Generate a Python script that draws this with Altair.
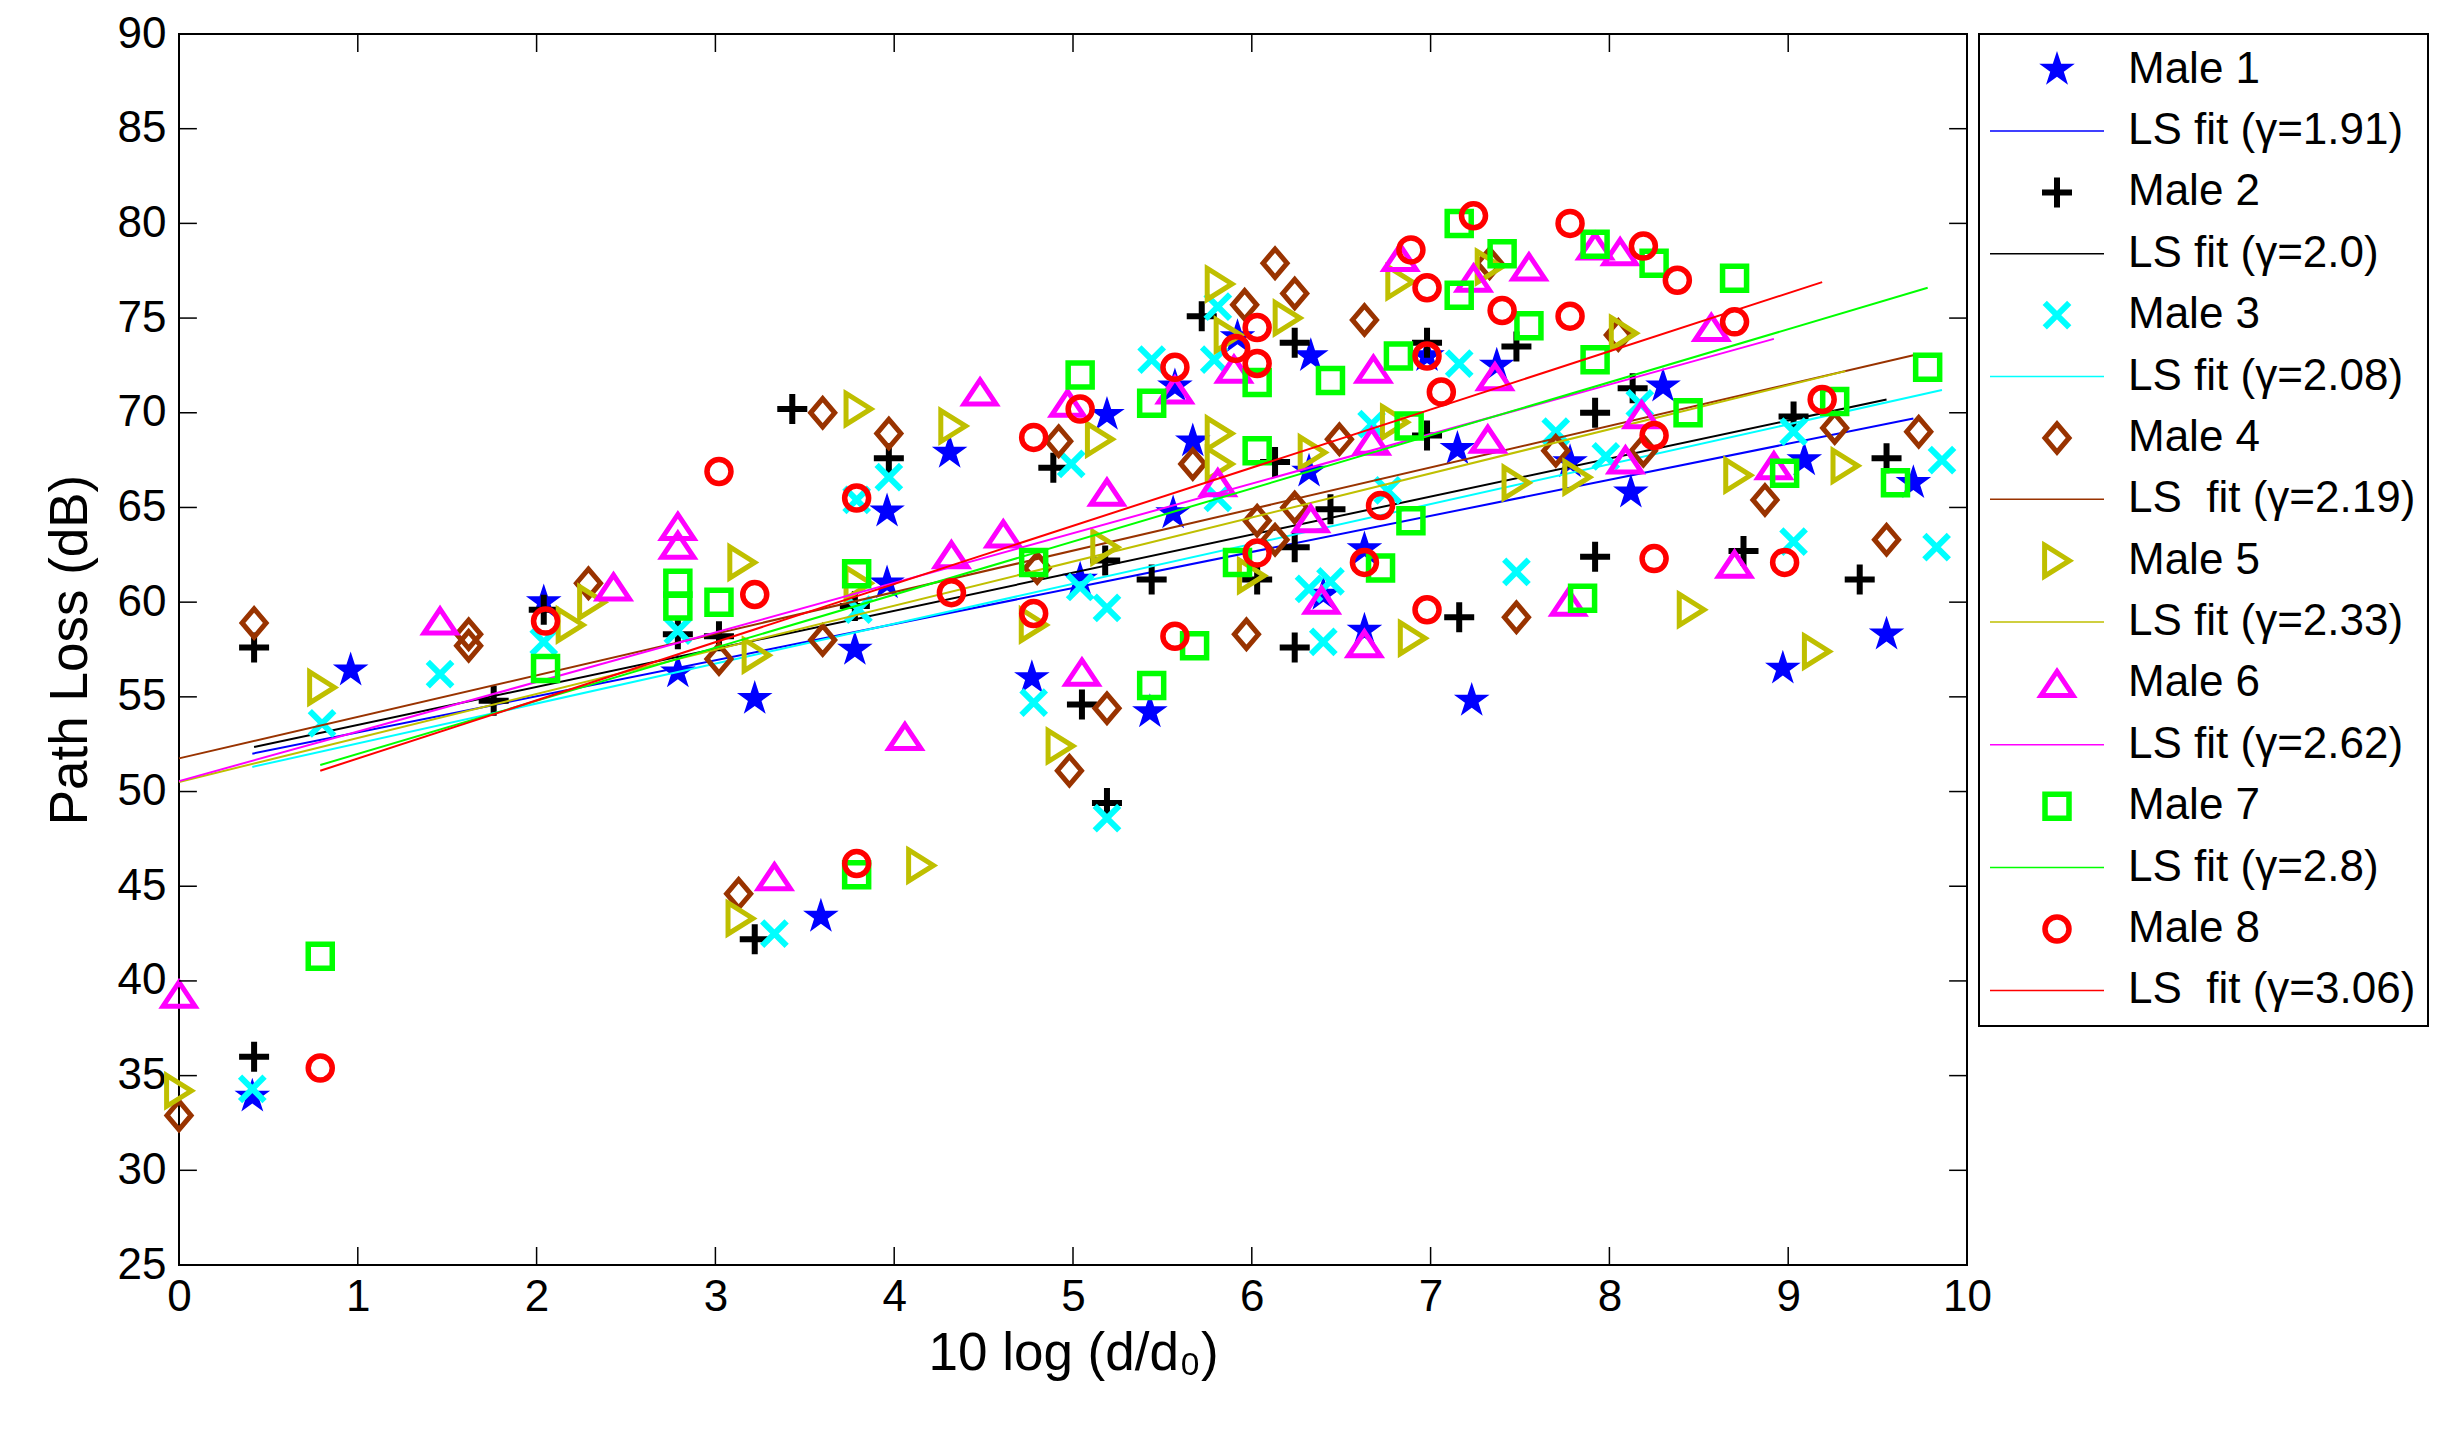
import altair as alt
import pandas as pd

FONT = "Liberation Sans"

SERIES = ["Male 1", "Male 2", "Male 3", "Male 4", "Male 5", "Male 6", "Male 7", "Male 8"]
FIT_LABELS = ["LS fit (γ=1.91)", "LS fit (γ=2.0)", "LS fit (γ=2.08)", "LS\u00a0 fit (γ=2.19)",
              "LS fit (γ=2.33)", "LS fit (γ=2.62)", "LS fit (γ=2.8)", "LS\u00a0 fit (γ=3.06)"]
COLORS = ["#0000FF", "#000000", "#00FFFF", "#993300", "#BFBF00", "#FF00FF", "#00FF00", "#FF0000"]

# ---- measured points (x = 10 log(d/d0), y = path loss dB) ----
M1_X = [0.41, 0.96, 2.04, 2.79, 3.22, 3.59, 3.78, 3.96, 3.96, 4.31, 4.77, 5.04, 5.19, 5.43, 5.56, 5.57, 5.67,
        5.92, 6.32, 6.33, 6.4, 6.63, 6.63, 6.98, 7.15, 7.23, 7.37, 7.78, 8.12, 8.3, 8.97, 9.09, 9.55, 9.7]
M1_Y = [33.9, 56.4, 60.0, 56.3, 54.9, 43.4, 57.5, 61.0, 64.8, 67.9, 56.0, 61.2, 69.9, 54.2, 64.7, 71.4, 68.5,
        74.0, 66.9, 73.0, 60.4, 62.8, 58.5, 73.0, 68.1, 54.8, 72.5, 67.4, 65.8, 71.4, 56.5, 67.5, 58.3, 66.3]

M2_X = [0.42, 0.42, 1.76, 2.04, 2.79, 3.02, 3.22, 3.43, 3.78, 3.97, 4.89, 5.05, 5.18, 5.19, 5.44, 5.72, 6.03,
        6.13, 6.24, 6.24, 6.24, 6.44, 6.98, 6.98, 7.16, 7.48, 7.92, 7.92, 8.13, 8.75, 9.03, 9.4, 9.55]
M2_Y = [57.6, 36.0, 54.8, 59.6, 58.3, 58.2, 42.2, 70.2, 59.8, 67.6, 67.1, 54.6, 62.2, 49.4, 61.2, 75.1, 61.2,
        67.4, 73.7, 62.9, 57.6, 64.9, 73.7, 68.8, 59.2, 73.5, 70.0, 62.4, 71.3, 62.7, 69.8, 61.2, 67.6]

M3_X = [0.41, 0.8, 1.46, 2.04, 2.79, 3.33, 3.79, 3.8, 3.97, 4.78, 4.99, 5.04, 5.19, 5.19, 5.44, 5.79, 5.81,
        5.81, 6.32, 6.40, 6.44, 6.67, 6.76, 7.16, 7.48, 7.7, 7.98, 8.17, 9.03, 9.03, 9.83, 9.86]
M3_Y = [34.3, 53.6, 56.2, 57.9, 58.5, 42.5, 65.4, 59.6, 66.6, 54.7, 67.3, 60.8, 59.7, 48.6, 72.8, 72.8, 75.6,
        65.5, 60.7, 57.9, 61.1, 69.4, 65.9, 72.6, 61.6, 69.0, 67.7, 70.5, 69.0, 63.2, 62.9, 67.5]

M4_X = [0.0, 0.42, 1.62, 1.62, 2.29, 3.02, 3.13, 3.6, 3.6, 3.97, 4.8, 4.92, 4.98, 5.19, 5.67, 5.96, 5.97,
        6.03, 6.13, 6.13, 6.24, 6.24, 6.49, 6.63, 7.33, 7.48, 7.7, 8.05, 8.19, 8.87, 9.26, 9.55, 9.73]
M4_Y = [32.9, 58.9, 58.3, 57.7, 61.0, 57.0, 44.6, 70.0, 58.0, 68.9, 61.8, 68.5, 51.1, 54.4, 67.3, 75.7, 58.3,
        64.3, 77.9, 63.3, 76.3, 65.0, 68.6, 74.9, 77.9, 59.2, 68.0, 74.1, 68.0, 65.4, 69.2, 63.3, 69.0]

M5_X = [0.0, 0.8, 2.19, 2.31, 3.14, 3.15, 3.23, 3.8, 3.8, 4.15, 4.33, 4.78, 4.93, 5.15, 5.18, 5.82, 5.82,
        5.82, 5.87, 6.0, 6.2, 6.34, 6.8, 6.83, 6.9, 7.33, 7.48, 7.82, 8.08, 8.46, 8.72, 9.16, 9.32]
M5_Y = [34.2, 55.5, 58.8, 60.0, 43.3, 62.1, 57.2, 70.2, 61.0, 46.1, 69.3, 58.8, 52.4, 68.6, 62.9, 76.8, 68.9,
        67.3, 74.1, 61.4, 75.0, 67.9, 69.5, 76.9, 58.1, 77.7, 66.3, 66.6, 74.2, 59.6, 66.7, 57.4, 67.2]

M6_X = [0.0, 1.46, 2.43, 2.79, 2.79, 3.33, 4.06, 4.32, 4.48, 4.61, 4.97, 5.05, 5.19, 5.57, 5.81, 5.9, 6.33,
        6.39, 6.63, 6.67, 6.68, 6.83, 7.24, 7.32, 7.36, 7.55, 7.77, 7.92, 8.06, 8.09, 8.18, 8.57, 8.7, 8.92]
M6_Y = [39.3, 59.0, 60.8, 64.0, 63.0, 45.5, 52.9, 62.5, 71.1, 63.6, 70.5, 56.3, 65.8, 71.2, 66.3, 72.3, 64.4,
        60.1, 57.8, 68.5, 72.3, 78.2, 77.1, 68.6, 71.9, 77.7, 60.0, 78.8, 78.5, 67.5, 69.9, 74.5, 62.0, 67.2]

M7_X = [0.79, 2.05, 2.79, 2.79, 3.02, 3.79, 3.79, 4.78, 5.04, 5.44, 5.44, 5.68, 5.92, 6.03, 6.03, 6.44, 6.72,
        6.82, 6.88, 6.89, 7.16, 7.16, 7.4, 7.55, 7.85, 7.92, 7.92, 8.25, 8.44, 8.7, 8.98, 9.26, 9.6, 9.78]
M7_Y = [41.3, 56.5, 61.0, 59.8, 60.0, 61.5, 45.6, 62.1, 72.0, 70.5, 55.6, 57.7, 62.1, 71.6, 68.0, 71.7, 61.8,
        73.0, 69.3, 64.3, 80.0, 76.2, 78.4, 74.6, 60.2, 78.9, 72.8, 77.9, 70.0, 77.1, 66.8, 70.6, 66.3, 72.4]

M8_X = [0.79, 2.05, 3.02, 3.22, 3.79, 3.79, 4.32, 4.78, 4.78, 5.04, 5.57, 5.57, 5.91, 6.03, 6.03, 6.03, 6.63,
        6.72, 6.89, 6.98, 6.98, 6.98, 7.06, 7.24, 7.4, 7.78, 7.78, 8.19, 8.25, 8.25, 8.38, 8.7, 8.98, 9.19]
M8_Y = [35.4, 59.0, 66.9, 60.4, 65.5, 46.2, 60.5, 68.7, 59.4, 70.2, 72.4, 58.2, 73.4, 74.5, 72.6, 62.6, 62.1,
        65.1, 78.6, 76.6, 73.0, 59.6, 71.1, 80.4, 75.4, 80.0, 75.1, 78.8, 68.8, 62.3, 77.0, 74.8, 62.1, 70.7]

# ---- LS fit line end points ----
FIT_X0 = [0.41, 0.42, 0.41, 0.0, 0.0, 0.0, 0.79, 0.79]
FIT_X1 = [9.7, 9.55, 9.86, 9.73, 9.32, 8.92, 9.78, 9.19]
FIT_Y0 = [52.0, 52.35, 51.3, 51.75, 50.5, 50.55, 51.4, 51.1]
FIT_Y1 = [69.7, 70.7, 71.2, 73.1, 72.2, 73.9, 76.6, 76.9]

X_TICKS = [0, 1, 2, 3, 4, 5, 6, 7, 8, 9, 10]
Y_TICKS = [25, 30, 35, 40, 45, 50, 55, 60, 65, 70, 75, 80, 85, 90]

# ---- marker styles ----
STAR = ("M0,-1L0.2245,-0.309L0.9511,-0.309L0.3633,0.118L0.5878,0.809L0,0.382"
        "L-0.5878,0.809L-0.3633,0.118L-0.9511,-0.309L-0.2245,-0.309Z")
PLUS = "M-1,0L1,0M0,-1L0,1"
XMARK = "M-1,-1L1,1M-1,1L1,-1"
DIAMOND = "M0,-1L0.85,0L0,1L-0.85,0Z"
TRI_RIGHT = "M-0.8,-1L0.8,0L-0.8,1Z"
TRI_UP = "M0,-0.75L1,0.75L-1,0.75Z"
SHAPES = [STAR, PLUS, XMARK, DIAMOND, TRI_RIGHT, TRI_UP, "square", "circle"]
SIZES = [1400, 900, 600, 800, 961, 1024, 576, 576]
FILLED = [True, False, False, False, False, False, False, False]
MSTROKE = [1, 6, 6, 5, 5, 5, 5.5, 5.5]

XS = [M1_X, M2_X, M3_X, M4_X, M5_X, M6_X, M7_X, M8_X]
YS = [M1_Y, M2_Y, M3_Y, M4_Y, M5_Y, M6_Y, M7_Y, M8_Y]

W, H = 1788, 1231
XDOM, YDOM = [0, 10], [25, 90]
TICK_LX = 0.1   # inward tick length in x units
TICK_LY = 0.95  # inward tick length in y units

xscale = alt.Scale(domain=XDOM, nice=False, zero=False)
yscale = alt.Scale(domain=YDOM, nice=False, zero=False)
xaxis = alt.Axis(values=X_TICKS, title="10 log (d/d\u2080)", ticks=False, domain=False, grid=False,
                 labelFontSize=44, labelPadding=10, titleFontSize=53, titlePadding=8,
                 labelFont=FONT, titleFont=FONT, titleFontWeight="normal",
                 labelColor="black", titleColor="black", labelFlush=False)
yaxis = alt.Axis(values=Y_TICKS, title="Path Loss (dB)", ticks=False, domain=False, grid=False,
                 labelFontSize=44, labelPadding=13, titleFontSize=53, titlePadding=20,
                 labelFont=FONT, titleFont=FONT, titleFontWeight="normal",
                 labelColor="black", titleColor="black", labelFlush=False)


def X(field):
    return alt.X(field, type="quantitative", scale=xscale, axis=xaxis)


def Y(field):
    return alt.Y(field, type="quantitative", scale=yscale, axis=yaxis)


layers = []
for i, s in enumerate(SERIES):
    pdf = pd.DataFrame({"x": XS[i], "y": YS[i]})
    layers.append(
        alt.Chart(pdf).mark_point(
            shape=SHAPES[i], size=SIZES[i], filled=FILLED[i], color=COLORS[i],
            strokeWidth=MSTROKE[i], opacity=1, strokeJoin="miter"
        ).encode(x=X("x"), y=Y("y"))
    )
    ldf = pd.DataFrame({"x": [FIT_X0[i], FIT_X1[i]], "y": [FIT_Y0[i], FIT_Y1[i]]})
    layers.append(
        alt.Chart(ldf).mark_line(color=COLORS[i], strokeWidth=2).encode(x=X("x"), y=Y("y"))
    )

# inward ticks on all four sides
left_t = pd.DataFrame({"y": Y_TICKS, "x": [XDOM[0]] * len(Y_TICKS), "x2": [XDOM[0] + TICK_LX] * len(Y_TICKS)})
right_t = pd.DataFrame({"y": Y_TICKS, "x": [XDOM[1] - TICK_LX] * len(Y_TICKS), "x2": [XDOM[1]] * len(Y_TICKS)})
bot_t = pd.DataFrame({"x": X_TICKS, "y": [YDOM[0]] * len(X_TICKS), "y2": [YDOM[0] + TICK_LY] * len(X_TICKS)})
top_t = pd.DataFrame({"x": X_TICKS, "y": [YDOM[1] - TICK_LY] * len(X_TICKS), "y2": [YDOM[1]] * len(X_TICKS)})
for d in (left_t, right_t):
    layers.append(alt.Chart(d).mark_rule(color="black", strokeWidth=1.5).encode(
        x=X("x"), x2="x2:Q", y=Y("y")))
for d in (bot_t, top_t):
    layers.append(alt.Chart(d).mark_rule(color="black", strokeWidth=1.5).encode(
        x=X("x"), y=Y("y"), y2="y2:Q"))

main = alt.layer(*layers).properties(width=W, height=H)

# ---- legend panel ----
LW, LH = 449, 992
rows = []
for i, s in enumerate(SERIES):
    rows.append({"row": 2 * i, "label": s, "series": s})
    rows.append({"row": 2 * i + 1, "label": FIT_LABELS[i], "series": s})
leg_df = pd.DataFrame(rows)
lyscale = alt.Scale(domain=[-0.58, 15.58], reverse=True, nice=False, zero=False)

leg_layers = []
for i, s in enumerate(SERIES):
    leg_layers.append(
        alt.Chart(leg_df[leg_df["row"] == 2 * i]).mark_point(
            shape=SHAPES[i], size=SIZES[i], filled=FILLED[i], color=COLORS[i],
            strokeWidth=MSTROKE[i], opacity=1, strokeJoin="miter"
        ).encode(x=alt.value(78), y=alt.Y("row:Q", scale=lyscale, axis=None))
    )
    leg_layers.append(
        alt.Chart(leg_df[leg_df["row"] == 2 * i + 1]).mark_rule(color=COLORS[i], strokeWidth=1.5).encode(
            x=alt.value(11), x2=alt.value(125), y=alt.Y("row:Q", scale=lyscale, axis=None))
    )
leg_layers.append(
    alt.Chart(leg_df).mark_text(align="left", baseline="middle", fontSize=44, font=FONT, color="black").encode(
        x=alt.value(149), y=alt.Y("row:Q", scale=lyscale, axis=None), text="label:N")
)
legend = alt.layer(*leg_layers).properties(width=LW, height=LH)

chart = alt.hconcat(main, legend, spacing=12, bounds="flush").properties(
    padding={"left": 35, "top": 3, "right": 5, "bottom": 5},
    background="white",
).configure_view(stroke="black", strokeWidth=2)

chart.save("out.html", embed_options={"renderer": "svg", "actions": False})
